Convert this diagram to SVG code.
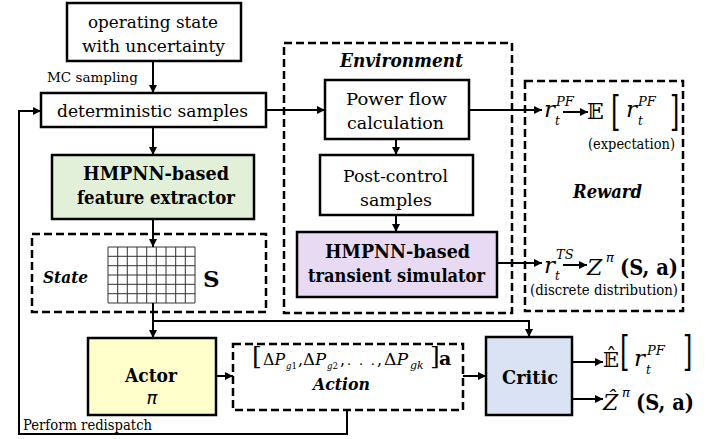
<svg xmlns="http://www.w3.org/2000/svg" width="728" height="439" viewBox="0 0 728 439" font-family="DejaVu Serif, serif">
<defs>
<marker id="ah" viewBox="0 0 10 10" refX="10" refY="5" markerWidth="9" markerHeight="8" markerUnits="userSpaceOnUse" orient="auto">
<path d="M0,0 L10,5 L0,10 z" fill="#000"/>
</marker>
</defs>
<style>
.box{stroke:#000;stroke-width:2.5;}
.dash{fill:none;stroke:#000;stroke-width:2.5;stroke-dasharray:8 4;}
text{font-family:'DejaVu Serif',serif;fill:#000;}
.m{font-family:'DejaVu Serif','DejaVu Sans',serif;}
.p{font-family:'DejaVu Sans',sans-serif;font-style:italic;}
.b{font-weight:bold;}
.i{font-style:italic;}
.c{text-anchor:middle;}
.conn{fill:none;stroke:#000;stroke-width:2;}
.arr{marker-end:url(#ah);}
</style>
<rect width="728" height="439" fill="#fff"/>

<!-- Dashed containers -->
<g id="environment">
<rect class="dash" x="284" y="43" width="228" height="270"/>
<text class="b i" x="340" y="67" font-size="18" textLength="123" lengthAdjust="spacingAndGlyphs">Environment</text>
</g>
<g id="reward">
<rect class="dash" x="525" y="81" width="158" height="230"/>
<text class="b i" x="573" y="198" font-size="18" textLength="69" lengthAdjust="spacingAndGlyphs">Reward</text>
</g>
<g id="state">
<rect class="dash" x="32" y="234" width="234" height="78"/>
<text class="b i" x="43" y="283" font-size="17" textLength="45" lengthAdjust="spacingAndGlyphs">State</text>
<path d="M108,247 H195 M108,256.3 H195 M108,265.7 H195 M108,275 H195 M108,284.3 H195 M108,293.7 H195 M108,303 H195 M108,247 V303 M117.7,247 V303 M127.3,247 V303 M137,247 V303 M146.7,247 V303 M156.3,247 V303 M166,247 V303 M175.7,247 V303 M185.3,247 V303 M195,247 V303" stroke="#333" stroke-width="1" fill="none"/>
<text class="b" x="203" y="287" font-size="23">S</text>
</g>
<g id="action">
<rect class="dash" x="233" y="344" width="230" height="66"/>
<text class="m" x="252" y="364" font-size="25">[</text>
<text class="m" x="263" y="365" font-size="16" textLength="22" lengthAdjust="spacingAndGlyphs">Δ<tspan class="i">P</tspan></text>
<text class="m i" x="286" y="369" font-size="10" textLength="11" lengthAdjust="spacingAndGlyphs">g<tspan font-style="normal">1</tspan></text>
<text class="m" x="298" y="365" font-size="16">,</text>
<text class="m" x="303" y="365" font-size="16" textLength="23" lengthAdjust="spacingAndGlyphs">Δ<tspan class="i">P</tspan></text>
<text class="m i" x="327" y="369" font-size="10" textLength="11" lengthAdjust="spacingAndGlyphs">g<tspan font-style="normal">2</tspan></text>
<text class="m" x="340" y="365" font-size="16">,</text>
<text class="m" x="347" y="365" font-size="13" textLength="28" lengthAdjust="spacing">. . .</text>
<text class="m" x="377" y="365" font-size="16">,</text>
<text class="m" x="384" y="365" font-size="16" textLength="24" lengthAdjust="spacingAndGlyphs">Δ<tspan class="i">P</tspan></text>
<text class="m i" x="410" y="369" font-size="11">gk</text>
<text class="m" x="430" y="364" font-size="25">]</text>
<text class="b" x="439" y="365" font-size="19">a</text>
<text class="b i" x="313" y="390" font-size="17" textLength="57" lengthAdjust="spacingAndGlyphs">Action</text>
</g>

<!-- Nodes -->
<g id="operating">
<rect class="box" x="67" y="3" width="174" height="58" fill="#fff"/>
<text x="88" y="28" font-size="17" textLength="130" lengthAdjust="spacingAndGlyphs">operating state</text>
<text x="82" y="52" font-size="17" textLength="143" lengthAdjust="spacingAndGlyphs">with uncertainty</text>
</g>
<g id="deterministic">
<rect class="box" x="41" y="93" width="225" height="34" fill="#fff"/>
<text x="57" y="117" font-size="17" textLength="191" lengthAdjust="spacingAndGlyphs">deterministic samples</text>
</g>
<g id="extractor">
<rect class="box" x="52" y="155" width="202" height="64" fill="#E2F0D9"/>
<text class="b" x="83" y="180" font-size="18" textLength="146" lengthAdjust="spacingAndGlyphs">HMPNN-based</text>
<text class="b" x="77" y="204" font-size="18" textLength="158" lengthAdjust="spacingAndGlyphs">feature extractor</text>
</g>
<g id="powerflow">
<rect class="box" x="325" y="80" width="144" height="59" fill="#fff"/>
<text x="346" y="105" font-size="17" textLength="101" lengthAdjust="spacingAndGlyphs">Power flow</text>
<text x="347" y="129" font-size="17" textLength="97" lengthAdjust="spacingAndGlyphs">calculation</text>
</g>
<g id="postcontrol">
<rect class="box" x="320" y="155" width="153" height="60" fill="#fff"/>
<text x="343" y="182" font-size="17" textLength="105" lengthAdjust="spacingAndGlyphs">Post-control</text>
<text x="360" y="206" font-size="17" textLength="72" lengthAdjust="spacingAndGlyphs">samples</text>
</g>
<g id="simulator">
<rect class="box" x="297" y="232" width="200" height="65" fill="#E8DAF2"/>
<text class="b" x="325" y="258" font-size="18" textLength="145" lengthAdjust="spacingAndGlyphs">HMPNN-based</text>
<text class="b" x="308" y="282" font-size="18" textLength="177" lengthAdjust="spacingAndGlyphs">transient simulator</text>
</g>
<g id="actor">
<rect class="box" x="88" y="338" width="128" height="77" fill="#FFFFCC"/>
<text class="b" x="125" y="382" font-size="19" textLength="52" lengthAdjust="spacingAndGlyphs">Actor</text>
<text class="p c" x="152" y="404" font-size="18">π</text>
</g>
<g id="critic">
<rect class="box" x="486" y="337" width="86" height="78" fill="#DAE3F3"/>
<text class="b" x="502" y="384" font-size="19" textLength="56" lengthAdjust="spacingAndGlyphs">Critic</text>
</g>

<!-- Reward contents -->
<g id="reward-pf">
<text class="m i" x="544" y="117" font-size="23">r</text>
<text class="m i" x="556" y="106" font-size="13">PF</text>
<text class="m i" x="555" y="125" font-size="12">t</text>
<text class="m" x="587" y="119" font-size="22">𝔼</text>
<text class="m" transform="translate(611,126) scale(1,1.7)" font-size="24">[</text>
<text class="m i" x="626" y="117" font-size="23">r</text>
<text class="m i" x="638" y="106" font-size="13">PF</text>
<text class="m i" x="638" y="125" font-size="12">t</text>
<text class="m" transform="translate(670,126) scale(1,1.7)" font-size="24">]</text>
<text x="588" y="149" font-size="14" textLength="87" lengthAdjust="spacingAndGlyphs">(expectation)</text>
</g>
<g id="reward-ts">
<text class="m i" x="544" y="273" font-size="23">r</text>
<text class="m i" x="556" y="259" font-size="13">TS</text>
<text class="m i" x="555" y="280" font-size="12">t</text>
<text class="m i" x="587" y="275" font-size="22">Z</text>
<text class="p" x="606" y="262" font-size="13">π</text>
<text class="m b" x="620" y="275" font-size="22" textLength="58" lengthAdjust="spacingAndGlyphs">(S, a)</text>
<text x="530" y="295" font-size="14" textLength="148" lengthAdjust="spacingAndGlyphs">(discrete distribution)</text>
</g>
<g id="critic-out">
<text class="m" x="603" y="367" font-size="21">𝔼̂</text>
<text class="m" transform="translate(620,366) scale(1,1.7)" font-size="24">[</text>
<text class="m i" x="634" y="366" font-size="23">r</text>
<text class="m i" x="647" y="355" font-size="13">PF</text>
<text class="m i" x="646" y="374" font-size="12">t</text>
<text class="m" transform="translate(683,366) scale(1,1.7)" font-size="24">]</text>
<text class="m i" x="603" y="410" font-size="22">Ẑ</text>
<text class="p" x="622" y="397" font-size="13">π</text>
<text class="m b" x="636" y="410" font-size="22" textLength="58" lengthAdjust="spacingAndGlyphs">(S, a)</text>
</g>

<!-- Labels -->
<text x="47" y="82" font-size="13" textLength="91" lengthAdjust="spacingAndGlyphs">MC sampling</text>
<text x="23" y="430" font-size="14" textLength="129" lengthAdjust="spacingAndGlyphs">Perform  redispatch</text>

<!-- Connectors -->
<g id="connectors">
<path class="conn arr" d="M153,61 V93"/>
<path class="conn arr" d="M153,127 V155"/>
<path class="conn arr" d="M153,219 V247"/>
<path class="conn arr" d="M153,303 V338"/>
<path class="conn arr" d="M153,321 H529 V337"/>
<path class="conn arr" d="M216,376 H233"/>
<path class="conn arr" d="M463,376 H486"/>
<path class="conn arr" d="M347,410 V434 H19 V111 H41"/>
<path class="conn arr" d="M266,110 H325"/>
<path class="conn arr" d="M396,139 V155"/>
<path class="conn arr" d="M396,215 V232"/>
<path class="conn arr" d="M469,110 H542"/>
<path class="conn arr" d="M497,263 H542"/>
<path class="conn arr" d="M563,112 H588"/>
<path class="conn arr" d="M563,265 H587"/>
<path class="conn arr" d="M572,362 H603"/>
<path class="conn arr" d="M572,399 H603"/>
</g>
</svg>
